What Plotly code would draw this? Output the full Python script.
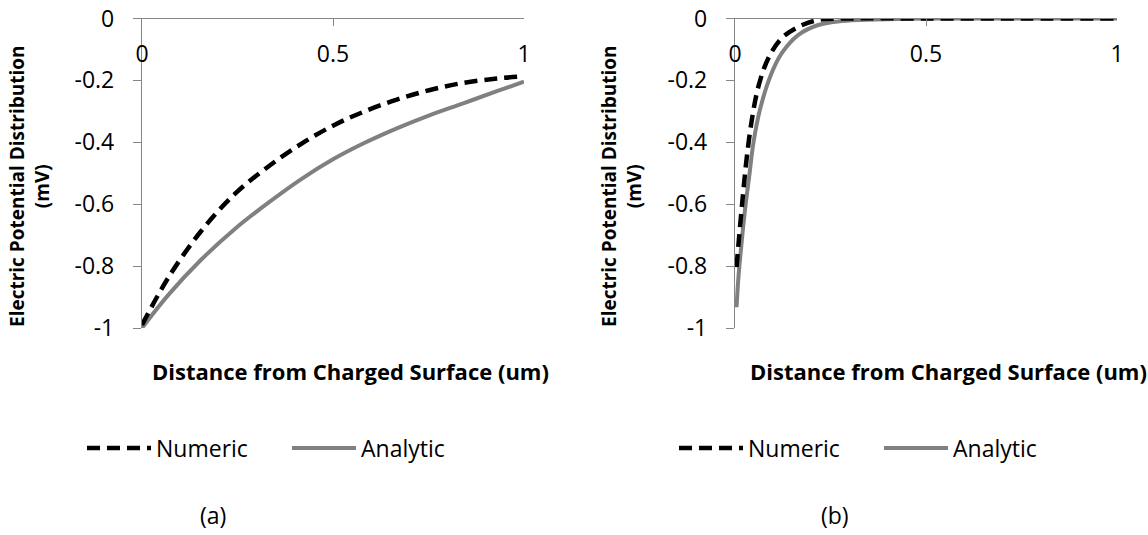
import plotly.graph_objects as go

# ---- data ----
x_num_a = [0.0, 0.069, 0.156, 0.243, 0.331, 0.418, 0.505, 0.579, 0.667, 0.754, 0.841, 0.929, 1.0]
y_num_a = [-0.99, -0.837, -0.685, -0.567, -0.478, -0.404, -0.343, -0.302, -0.262, -0.231, -0.208, -0.194, -0.187]
x_ana_a = [0.0, 0.069, 0.156, 0.243, 0.331, 0.418, 0.5, 0.579, 0.667, 0.754, 0.841, 0.929, 1.0]
y_ana_a = [-1.0, -0.893, -0.778, -0.68, -0.595, -0.518, -0.455, -0.404, -0.355, -0.312, -0.274, -0.235, -0.204]

x_num_b = [0.004, 0.013, 0.022, 0.031, 0.044, 0.061, 0.087, 0.122, 0.166, 0.218, 0.3, 0.5, 0.75, 1.0]
y_num_b = [-0.803, -0.674, -0.555, -0.447, -0.328, -0.221, -0.129, -0.064, -0.027, -0.005, 0.0, 0.0, 0.0, 0.0]
x_ana_b = [0.004, 0.009, 0.017, 0.026, 0.037, 0.048, 0.065, 0.092, 0.122, 0.166, 0.218, 0.279, 0.366, 0.5, 0.75, 1.0]
y_ana_b = [-0.933, -0.836, -0.728, -0.62, -0.512, -0.404, -0.296, -0.188, -0.113, -0.053, -0.021, -0.008, -0.003, 0.0, 0.0, 0.0]

x_tickvals = [0, 0.5, 1]
x_ticktext = ["0", "0.5", "1"]
y_tickvals = [0, -0.2, -0.4, -0.6, -0.8, -1]
y_ticktext = ["0", "-0.2", "-0.4", "-0.6", "-0.8", "-1"]

series_names = ["Numeric", "Analytic"]
x_title = "Distance from Charged Surface (um)"
y_title = "Electric Potential Distribution<br>(mV)"
panel_labels = ["(a)", "(b)"]

W, H = 1148, 535
FONT = "Open Sans"
GRAY = "#808080"
AXIS = "#868686"

fig = go.Figure()

def add_panel(xs_n, ys_n, xs_a, ys_a, xa_n, xa, ya, legend):
    fig.add_trace(go.Scatter(x=xs_n, y=ys_n, mode="lines", name=series_names[0],
                             line=dict(color="black", width=4.5, dash="13px,7px", shape="spline", smoothing=1.0),
                             xaxis=xa_n, yaxis=ya, legend=legend))
    fig.add_trace(go.Scatter(x=xs_a, y=ys_a, mode="lines", name=series_names[1],
                             line=dict(color=GRAY, width=4, shape="spline", smoothing=1.0),
                             xaxis=xa, yaxis=ya, legend=legend))

# the numeric series sit on the label-carrying overlay x axes (same range as the main axes)
add_panel(x_num_a, y_num_a, x_ana_a, y_ana_a, "x3", "x", "y", "legend")
add_panel(x_num_b, y_num_b, x_ana_b, y_ana_b, "x4", "x2", "y2", "legend2")

def px_x(p):
    return p / W

def px_y(p):
    return 1 - p / H

y_dom = [px_y(328), px_y(18.5)]
panels = [(142, 524), (735, 1117)]
tickfont = dict(family=FONT, size=23, color="black")

xaxis_line = dict(range=[0, 1], side="top", showline=True, linecolor=AXIS, linewidth=1.3,
                  ticks="inside", ticklen=7, tickcolor=AXIS, tickwidth=1.3,
                  tickvals=x_tickvals, showticklabels=False, showgrid=False, zeroline=False,
                  fixedrange=True, automargin=False)
xaxis_labels = dict(range=[0, 1], side="bottom", showline=False, ticks="", anchor="free",
                    position=px_y(38), tickvals=x_tickvals, ticktext=x_ticktext,
                    showgrid=False, zeroline=False, tickfont=tickfont, fixedrange=True,
                    automargin=False)
yaxis_common = dict(range=[-1, 0], showline=True, linecolor=AXIS, linewidth=1.3,
                    ticks="outside", ticklen=8, tickcolor=AXIS, tickwidth=1.3,
                    tickvals=y_tickvals, ticktext=y_ticktext, ticklabelstandoff=14,
                    showgrid=False, zeroline=False, tickfont=tickfont, fixedrange=True,
                    automargin=False)

legend_common = dict(orientation="h", xanchor="left", yanchor="middle",
                     font=dict(family=FONT, size=23, color="black"), itemwidth=64,
                     entrywidth=126, entrywidthmode="pixels",
                     bgcolor="rgba(0,0,0,0)", traceorder="normal")

fig.update_layout(
    width=W, height=H, margin=dict(l=0, r=0, t=0, b=0, autoexpand=False),
    paper_bgcolor="white", plot_bgcolor="white",
    xaxis=dict(domain=[px_x(panels[0][0]), px_x(panels[0][1])], anchor="y", **xaxis_line),
    yaxis=dict(domain=y_dom, anchor="x", **yaxis_common),
    xaxis2=dict(domain=[px_x(panels[1][0]), px_x(panels[1][1])], anchor="y2", **xaxis_line),
    yaxis2=dict(domain=y_dom, anchor="x2", **yaxis_common),
    xaxis3=dict(domain=[px_x(panels[0][0]), px_x(panels[0][1])], overlaying="x", **xaxis_labels),
    xaxis4=dict(domain=[px_x(panels[1][0]), px_x(panels[1][1])], overlaying="x2", **xaxis_labels),
    legend=dict(x=px_x(82), y=px_y(448), **legend_common),
    legend2=dict(x=px_x(674), y=px_y(448), **legend_common),
    showlegend=True,
)

x_title_centers = [350, 948]
y_title_centers = [30, 622]
label_centers = [213, 835]
for i in range(2):
    fig.add_annotation(text="<b>" + x_title + "</b>", x=px_x(x_title_centers[i]), y=px_y(371),
                       xref="paper", yref="paper", showarrow=False, xanchor="center", yanchor="middle",
                       font=dict(family=FONT, size=22, color="black"))
    fig.add_annotation(text="<b>" + y_title + "</b>", x=px_x(y_title_centers[i]), y=px_y(186),
                       xref="paper", yref="paper", showarrow=False, xanchor="center", yanchor="middle",
                       textangle=-90, font=dict(family=FONT, size=19, color="black"))
    fig.add_annotation(text=panel_labels[i], x=px_x(label_centers[i]), y=px_y(515),
                       xref="paper", yref="paper", showarrow=False, xanchor="center", yanchor="middle",
                       font=dict(family=FONT, size=23, color="black"))

fig.write_html("out.html")
